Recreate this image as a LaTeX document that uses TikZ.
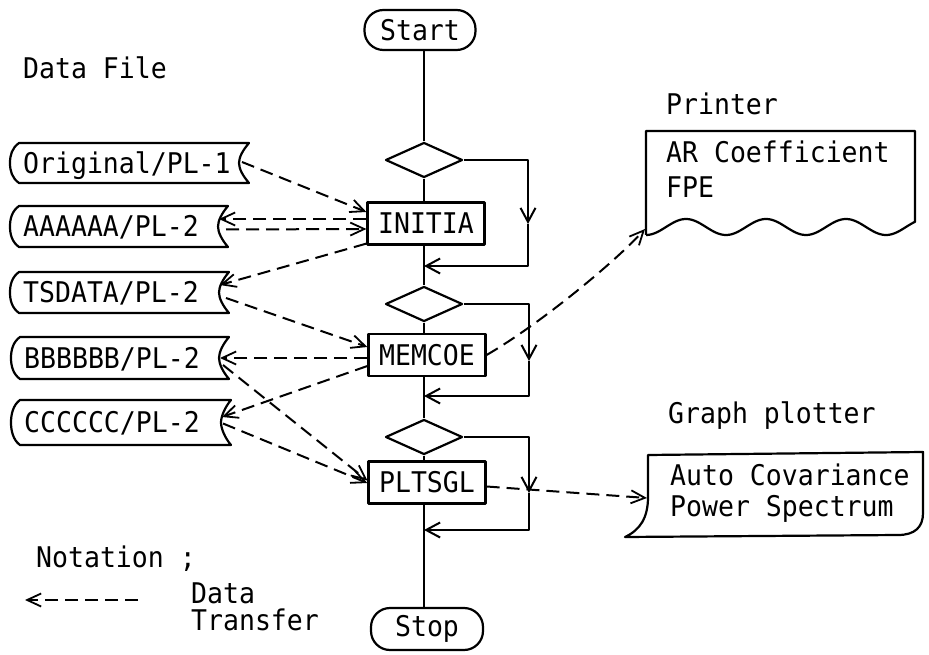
\documentclass[tikz,border=0pt]{standalone}
\usepackage{fontspec}
\newfontfamily\typefont[FakeStretch=0.93]{DejaVu Sans Mono}
\usetikzlibrary{arrows.meta,shapes.geometric,calc}

% stored-data symbol: convex left side, concave right side
% #1 name, #2 left x, #3 right x, #4 top y, #5 bottom y, #6 text
\newcommand\storedfile[6]{%
  \draw[solidline] (#2+9,#4) -- (#3,#4)
     .. controls (#3-6,#4+7) and (#3-10,{(#4+#5)/2-6}) .. (#3-10,{(#4+#5)/2})
     .. controls (#3-10,{(#4+#5)/2+6}) and (#3-6,#5-7) .. (#3,#5)
     -- (#2+9,#5)
     .. controls (#2+2,#5-5) and (#2,{(#4+#5)/2+8}) .. (#2,{(#4+#5)/2})
     .. controls (#2,{(#4+#5)/2-8}) and (#2+2,#4+5) .. cycle;
  \node[plaintext] (#1) at (#2+13,{(#4+#5)/2+10.3}) {#6};
  \coordinate (#1-r) at (#3-10,{(#4+#5)/2});
}

\begin{document}
\begin{tikzpicture}[x=1pt,y=-1pt,
  every node/.style={font=\typefont\fontsize{28.5pt}{34pt}\selectfont},
  solidline/.style={line width=2.2pt, line join=round},
  flow/.style={solidline, -{Straight Barb[length=14pt,width=15pt,line width=2pt]}},
  data/.style={line width=2pt, dash pattern=on 13pt off 7pt,
               -{Straight Barb[length=14pt,width=13pt,line width=1.8pt]}},
  terminal/.style={draw, solidline, rounded corners=19pt,
                   minimum width=111pt, minimum height=40pt, inner sep=0pt},
  process/.style={draw, solidline, minimum width=117pt,
                  minimum height=42pt, inner sep=0pt},
  decision/.style={draw, solidline, diamond, minimum width=77pt,
                   minimum height=35pt, inner sep=0pt},
  plaintext/.style={anchor=base west, inner sep=0pt}]

\fill[white] (0,0) rectangle (929,655);
\useasboundingbox (0,0) rectangle (929,655);

% main program flow
\node[terminal] (start) at (420,30) {Start};
\node[decision] (d1) at (424,160) {};
\node[process]  (p1) at (426,223.5) {INITIA};
\node[decision] (d2) at (424,304) {};
\node[process]  (p2) at (427,355) {MEMCOE};
\node[decision] (d3) at (424,437) {};
\node[process]  (p3) at (427,482.5) {PLTSGL};
\node[terminal, minimum width=112pt, minimum height=42pt] (stop) at (427,629) {Stop};

\draw[solidline] (d1.north) -- (d1.north |- start.south);
\draw[solidline] (d1.south) -- (d1.south |- p1.north);
\draw[solidline] (d1.south |- p1.south) -- (d2.north);
\draw[solidline] (d2.south) -- (d2.south |- p2.north);
\draw[solidline] (d2.south |- p2.south) -- (d3.north);
\draw[solidline] (d3.south) -- (d3.south |- p3.north);
\draw[solidline] (d3.south |- p3.south) -- (d3.south |- stop.north);

% bypass loops around each routine
\coordinate (v1) at (528,224);  \coordinate (j1) at (424,266);
\coordinate (v2) at (529,361);  \coordinate (j2) at (424,396);
\coordinate (v3) at (529,493);  \coordinate (j3) at (424,530);
\draw[flow] (d1.east) -| (v1);
\draw[flow] (v1) |- (j1);
\draw[flow] (d2.east) -| (v2);
\draw[flow] (v2) |- (j2);
\draw[flow] (d3.east) -| (v3);
\draw[flow] (v3) |- (j3);

% data files
\node[plaintext] (dfile) at (23,79) {Data File};
\storedfile{f1}{10}{249}{143}{183}{Original/PL-1}
\storedfile{f2}{10}{228}{206}{247}{AAAAAA/PL-2}
\storedfile{f3}{10}{229}{272}{313}{TSDATA/PL-2}
\storedfile{f4}{11}{229}{337}{379}{BBBBBB/PL-2}
\storedfile{f5}{11}{231}{400}{445}{CCCCCC/PL-2}

% printer output
\node[plaintext] (prnlabel) at (666,115) {Printer};
\draw[solidline] (646,235) -- (646,131) -- (915,131) -- (915,221.9)
  -- plot[domain=915:646, samples=140] (\x,{227+8*cos(4.5*(\x-646))});
\node[plaintext] (prn1) at (666,163) {AR Coefficient};
\node[plaintext] (prn2) at (666,198) {FPE};
\coordinate (prn-c) at (645,229);

% graph plotter output
\node[plaintext] (gplabel) at (668,423) {Graph plotter};
\draw[solidline] (648,455) -- (923,452) -- (923,513)
  .. controls (923,527) and (915,535) .. (898,535) -- (625,537)
  .. controls (640,530) and (648,518) .. (648,497) -- cycle;
\node[plaintext] (gp1) at (670,485) {Auto Covariance};
\node[plaintext] (gp2) at (670,516) {Power Spectrum};
\coordinate (gp-c) at (647,498);

% data transfers
\draw[data] ($(f1-r)+(3,-1)$) -- ($(p1.west)+(0,-11.5)$);
\draw[data] ($(p1.west)+(0,-4.5)$) -- ($(f2-r)+(1,-7.5)$);
\draw[data] ($(f2-r)+(8,3)$) -- ($(p1.west)+(0,5.5)$);
\draw[data] ($(p1.south west)+(0,-2)$) -- ($(f3-r)+(1,-7.5)$);
\draw[data] ($(f3-r)+(7,5.5)$) -- ($(p2.west)+(0,-8)$);
\draw[data] ($(p2.west)+(0,3)$) -- ($(f4-r)+(1,0)$);
\draw[data] ($(p2.west)+(0,11)$) -- ($(f5-r)+(1,-5.5)$);
\draw[data] ($(f4-r)+(4,7)$) -- ($(p3.west)+(0,-2)$);
\draw[data] ($(f5-r)+(2,1)$) -- ($(p3.west)+(0,0.5)$);
\draw[data] (p2.east) .. controls (540,324) and (615,262) .. (prn-c);
\draw[data] ($(p3.east)+(0,4)$) -- (gp-c);

% notation
\node[plaintext] (nota) at (36,567) {Notation ;};
\coordinate (nt-a) at (138,600);
\coordinate (nt-b) at (25,600);
\draw[data] (nt-a) -- (nt-b);
\node[plaintext] (nt1) at (191,603) {Data};
\node[plaintext] (nt2) at (191,630) {Transfer};

\end{tikzpicture}
\end{document}
